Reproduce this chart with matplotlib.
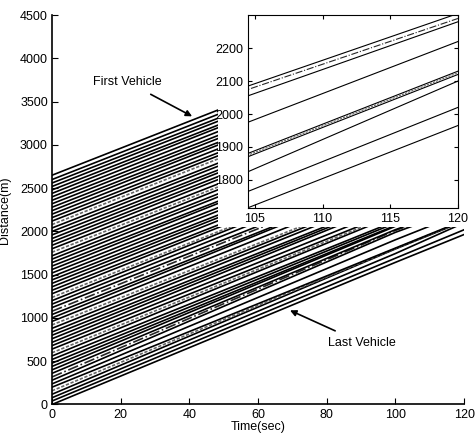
import matplotlib
matplotlib.use("Agg")
import matplotlib.pyplot as plt
from matplotlib.patches import Rectangle
import numpy as np

plt.rcParams['font.family'] = ['Liberation Sans', 'DejaVu Sans']
plt.rcParams['font.size'] = 9

# knot times of every trajectory (sec)
knot_times = [0, 100, 120]

# vehicle positions (m) at the knot times, last vehicle first
pos_start = [0, 40, 78, 118, 158, 200, 238, 280, 318, 360,
             400, 440, 478, 520, 560, 598, 640, 680, 718, 760,
             800, 838, 880, 920, 960, 1000, 1040, 1078, 1120, 1160,
             1200, 1238, 1280, 1320, 1360, 1400, 1440, 1478, 1520, 1560,
             1600, 1640, 1680, 1718, 1760, 1800, 1840, 1880, 1918, 1960,
             2000, 2040, 2080, 2120, 2160, 2200, 2240, 2280, 2320, 2360,
             2400, 2440, 2480, 2520, 2560, 2600, 2650]
pos_100 = [1643, 1691, 1745, 1798, 1803, 1808, 1904, 1990, 2012, 2021,
           2060, 2070, 2098, 2120, 2190, 2208, 2230, 2280, 2338, 2360,
           2380, 2438, 2470, 2490, 2550, 2610, 2620, 2668, 2690, 2750,
           2800, 2808, 2860, 2880, 2940, 2970, 2990, 3048, 3080, 3140,
           3150, 3210, 3240, 3298, 3320, 3350, 3410, 3440, 3488, 3510,
           3560, 3590, 3650, 3680, 3710, 3760, 3810, 3830, 3880, 3910,
           3960, 4010, 4030, 4080, 4110, 4160, 4210]
pos_end = [1965, 2020, 2100, 2120, 2125, 2130, 2220, 2280, 2290, 2305,
           2392, 2396, 2422, 2440, 2516, 2530, 2548, 2600, 2662, 2680,
           2696, 2758, 2788, 2804, 2868, 2932, 2936, 2986, 3004, 3068,
           3120, 3122, 3176, 3192, 3256, 3284, 3300, 3362, 3392, 3456,
           3460, 3524, 3552, 3614, 3632, 3660, 3724, 3752, 3802, 3820,
           3872, 3900, 3964, 3992, 4020, 4072, 4124, 4140, 4192, 4220,
           4272, 4324, 4340, 4392, 4420, 4472, 4522]

# vehicles drawn with a lighter broken line
dotted = [4, 15, 23, 31, 44, 52]
dashdot = [8, 27]
# the zoomed view only shows the last vehicles
n_zoom = 10

fig = plt.figure(figsize=(4.77, 4.34), dpi=100)
ax = fig.add_axes([0.109, 0.068, 0.864, 0.897])

def draw_vehicles(a, idx, lw):
    for i in idx:
        ys = [pos_start[i], pos_100[i], pos_end[i]]
        if i in dotted:
            a.plot(knot_times, ys, color='0.4', lw=lw, ls=(0, (2, 1)), zorder=2)
        elif i in dashdot:
            a.plot(knot_times, ys, color='0.15', lw=lw, ls='-.', zorder=2)
        else:
            a.plot(knot_times, ys, color='black', lw=lw, zorder=2)

draw_vehicles(ax, range(len(pos_start)), 1.2)

# white area behind the zoomed view
ax.add_patch(Rectangle((48.4, 2050), 80, 3000, facecolor='white',
                       edgecolor='none', zorder=3))

ax.set_xlim(0, 120)
ax.set_ylim(0, 4500)
ax.set_xticks(range(0, 121, 20))
ax.set_yticks(range(0, 4501, 500))
ax.spines['top'].set_visible(False)
ax.spines['right'].set_visible(False)
ax.spines['left'].set_linewidth(1.2)
ax.spines['bottom'].set_linewidth(1.2)
ax.tick_params(direction='in', length=4, pad=3)
ax.set_xlabel('Time(sec)', va='top')
ax.xaxis.set_label_coords(0.5, -0.043)
ax.set_ylabel('Distance(m)', labelpad=6)

ax.annotate('First Vehicle', xy=(40.8, 3331), xytext=(21.8, 3732),
            ha='center', va='center', fontsize=9,
            arrowprops=dict(arrowstyle='-|>', color='black', lw=1.2,
                            shrinkA=6, shrinkB=0, mutation_scale=9))
ax.annotate('Last Vehicle', xy=(69.3, 1088), xytext=(90.3, 710),
            ha='center', va='center', fontsize=9,
            arrowprops=dict(arrowstyle='-|>', color='black', lw=1.2,
                            shrinkA=6, shrinkB=0, mutation_scale=9))

# zoomed view
ins = fig.add_axes([0.520, 0.521, 0.440, 0.444])
draw_vehicles(ins, range(n_zoom), 0.8)
ins.set_xlim(104.5, 120)
ins.set_ylim(1715, 2300)
ins.set_xticks([105, 110, 115, 120])
ins.set_yticks([1800, 1900, 2000, 2100, 2200])
ins.tick_params(direction='in', length=3, top=True, right=True)
for s in ins.spines.values():
    s.set_linewidth(0.8)

fig.savefig('out.png', dpi=100)
